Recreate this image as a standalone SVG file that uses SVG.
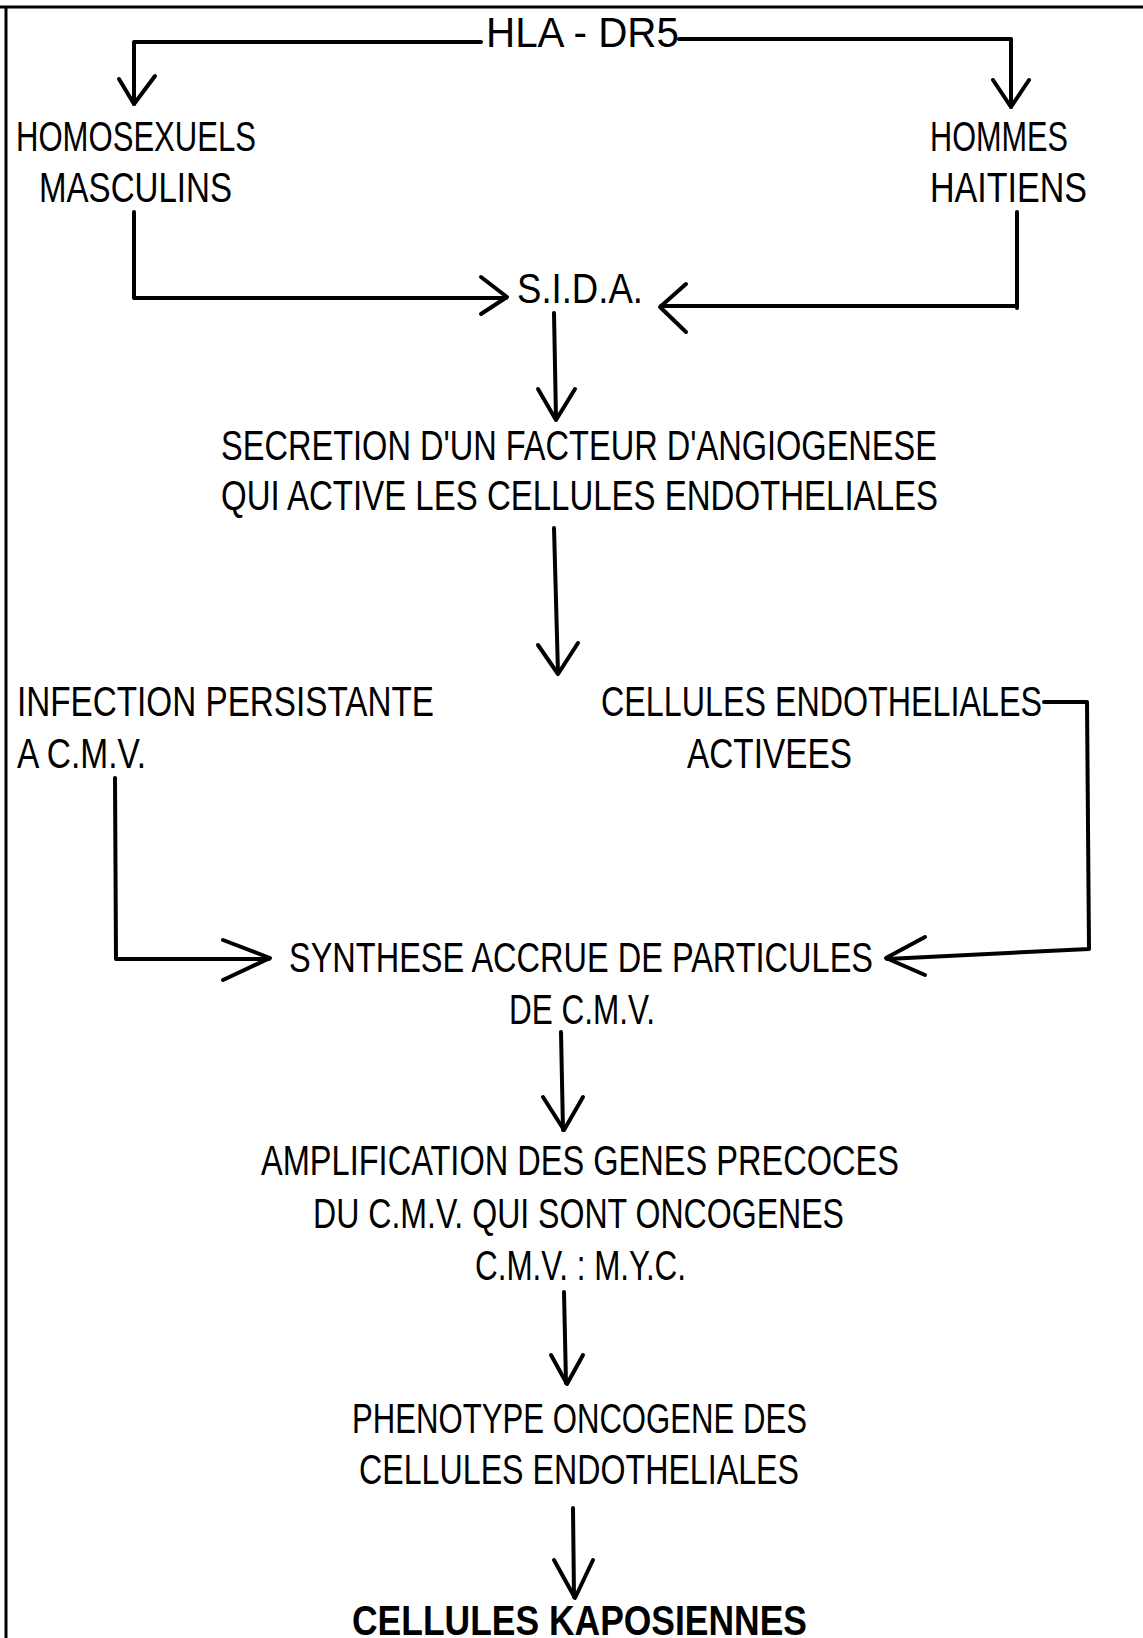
<svg xmlns="http://www.w3.org/2000/svg" width="1143" height="1638" viewBox="0 0 1143 1638">
<style>
  .t { font-family: "Liberation Sans", "DejaVu Sans", sans-serif; font-size: 43px; fill: #000; }
  .b { font-weight: bold; }
  .c { fill: none; stroke: #000; stroke-width: 4; stroke-linecap: round; stroke-linejoin: round; }
  .frame { fill: none; stroke: #000; stroke-width: 3; }
</style>
<rect width="1143" height="1638" fill="#fff"/>
<g id="frame">
  <line class="frame" x1="0" y1="7" x2="1143" y2="7"/>
  <line class="frame" x1="6" y1="7" x2="6" y2="1638"/>
</g>
<g id="connectors">
  <path class="c" d="M481,42 H134 V104"/>
  <path class="c" d="M119,79 L134,104 L155,76"/>
  <path class="c" d="M679,39 H1011 V107"/>
  <path class="c" d="M993,80 L1011,107 L1029,80"/>
  <path class="c" d="M134,212 V298 H506"/>
  <path class="c" d="M481,277 L507,297 L481,314"/>
  <path class="c" d="M1017,212 V308"/>
  <path class="c" d="M1017,306 H661"/>
  <path class="c" d="M686,284 L660,307 L686,332"/>
  <path class="c" d="M554,313 L556,419"/>
  <path class="c" d="M538,389 L556,420 L575,389"/>
  <path class="c" d="M554,528 L558,673"/>
  <path class="c" d="M538,645 L558,674 L578,643"/>
  <path class="c" d="M1044,702 H1087 L1089,949 L887,959"/>
  <path class="c" d="M925,937 L886,958 L925,975"/>
  <path class="c" d="M115,778 L116,959 H269"/>
  <path class="c" d="M223,940 L270,958 L223,980"/>
  <path class="c" d="M561,1032 L563,1130"/>
  <path class="c" d="M543,1097 L564,1130 L583,1097"/>
  <path class="c" d="M564,1292 L566,1383"/>
  <path class="c" d="M551,1355 L567,1384 L583,1355"/>
  <path class="c" d="M573,1508 L574,1597"/>
  <path class="c" d="M554,1560 L575,1598 L593,1560"/>
</g>
<g id="n-hla"><text class="t" x="486" y="47" textLength="193" lengthAdjust="spacingAndGlyphs">HLA - DR5</text></g>
<g id="n-homosexuels">
  <text class="t" x="16" y="151" textLength="240" lengthAdjust="spacingAndGlyphs">HOMOSEXUELS</text>
  <text class="t" x="39" y="202" textLength="193" lengthAdjust="spacingAndGlyphs">MASCULINS</text>
</g>
<g id="n-hommes">
  <text class="t" x="930" y="151" textLength="138" lengthAdjust="spacingAndGlyphs">HOMMES</text>
  <text class="t" x="930" y="202" textLength="157" lengthAdjust="spacingAndGlyphs">HAITIENS</text>
</g>
<g id="n-sida"><text class="t" x="517" y="303" textLength="126" lengthAdjust="spacingAndGlyphs">S.I.D.A.</text></g>
<g id="n-secretion">
  <text class="t" x="221" y="460" textLength="716" lengthAdjust="spacingAndGlyphs">SECRETION D'UN FACTEUR D'ANGIOGENESE</text>
  <text class="t" x="221" y="510" textLength="717" lengthAdjust="spacingAndGlyphs">QUI ACTIVE LES CELLULES ENDOTHELIALES</text>
</g>
<g id="n-infection">
  <text class="t" x="17" y="716" textLength="417" lengthAdjust="spacingAndGlyphs">INFECTION PERSISTANTE</text>
  <text class="t" x="17" y="768" textLength="129" lengthAdjust="spacingAndGlyphs">A C.M.V.</text>
</g>
<g id="n-activees">
  <text class="t" x="601" y="716" textLength="441" lengthAdjust="spacingAndGlyphs">CELLULES ENDOTHELIALES</text>
  <text class="t" x="687" y="768" textLength="165" lengthAdjust="spacingAndGlyphs">ACTIVEES</text>
</g>
<g id="n-synthese">
  <text class="t" x="289" y="972" textLength="584" lengthAdjust="spacingAndGlyphs">SYNTHESE ACCRUE DE PARTICULES</text>
  <text class="t" x="509" y="1024" textLength="146" lengthAdjust="spacingAndGlyphs">DE C.M.V.</text>
</g>
<g id="n-amplification">
  <text class="t" x="261" y="1175" textLength="638" lengthAdjust="spacingAndGlyphs">AMPLIFICATION DES GENES PRECOCES</text>
  <text class="t" x="313" y="1228" textLength="531" lengthAdjust="spacingAndGlyphs">DU C.M.V. QUI SONT ONCOGENES</text>
  <text class="t" x="475" y="1280" textLength="211" lengthAdjust="spacingAndGlyphs">C.M.V. : M.Y.C.</text>
</g>
<g id="n-phenotype">
  <text class="t" x="352" y="1433" textLength="455" lengthAdjust="spacingAndGlyphs">PHENOTYPE ONCOGENE DES</text>
  <text class="t" x="359" y="1484" textLength="440" lengthAdjust="spacingAndGlyphs">CELLULES ENDOTHELIALES</text>
</g>
<g id="n-kaposiennes">
  <text class="t b" x="352" y="1635" textLength="455" lengthAdjust="spacingAndGlyphs">CELLULES KAPOSIENNES</text>
</g>
</svg>
